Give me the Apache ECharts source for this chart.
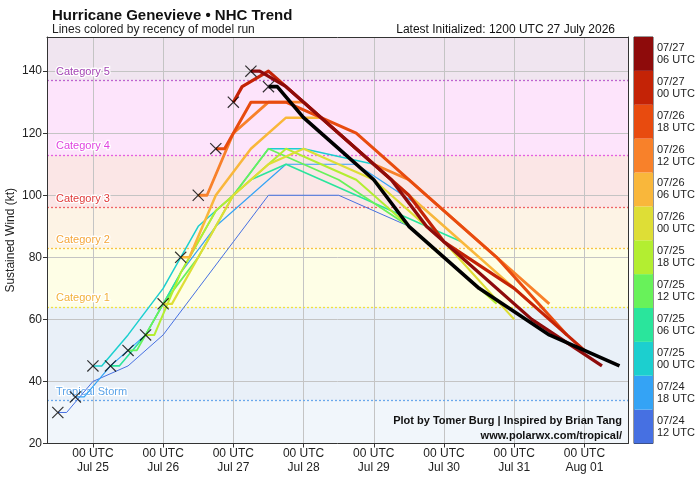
<!DOCTYPE html>
<html>
<head>
<meta charset="utf-8">
<script src="https://cdn.jsdelivr.net/npm/echarts@6/dist/echarts.min.js"></script>
<style>
    html, body { margin: 0; padding: 0; background: #fff; }
    #chart { width: 700px; height: 482px; }
</style>
</head>
<body>
<div id="chart"></div>
<script>
// time is in hours counted from 00 UTC 24 July 2026
const leadHours = [0, 3, 12, 24, 36, 48, 60, 72, 96, 120];

const runLabels = ['07/24\n12 UTC', '07/24\n18 UTC', '07/25\n00 UTC', '07/25\n06 UTC', '07/25\n12 UTC', '07/25\n18 UTC',
                   '07/26\n00 UTC', '07/26\n06 UTC', '07/26\n12 UTC', '07/26\n18 UTC', '07/27\n00 UTC', '07/27\n06 UTC'];
const runInitHours = [12, 18, 24, 30, 36, 42, 48, 54, 60, 66, 72, 78];
const runColors = ['#4670e2', '#34a3f5', '#1ccfcf', '#2ae59c', '#68f25a', '#b3ee31',
                   '#dede36', '#f9b73b', '#f8812a', '#e84b0f', '#c42306', '#8e0b0b'];
const runWidths = [1, 1.2, 1.5, 1.6, 1.8, 2, 2.2, 2.5, 2.8, 3, 3.2, 3.3];

// wind (kt) of every run at each lead time
const run0724_12 = [30, 30, 40, 45, 55, 70, 85, 100, 100, 90];
const run0724_18 = [35, 35, 45, 55, 75, 90, 100, 110, 110, 95];
const run0725_00 = [45, 45, 55, 70, 90, 100, 115, 115, 110, 90];
const run0725_06 = [45, 45, 55, 75, 95, 105, 110, 105, 95, 85];
const run0725_12 = [50, 50, 65, 80, 100, 115, 110, 105, 90, 70];
const run0725_18 = [55, 55, 75, 95, 105, 115, 110, 105, 85, 65];
const run0726_00 = [65, 65, 80, 100, 110, 115, 110, 105, 85, 60];
const run0726_06 = [80, 80, 100, 115, 125, 125, 115, 105, 85, 65];
const run0726_12 = [100, 100, 120, 130, 130, 120, 110, 105, 85, 65];
const run0726_18 = [115, 115, 130, 130, 125, 120, 110, 100, 80, 55];
const run0727_00 = [130, 135, 140, 130, 120, 110, 100, 85, 70, 50];
const run0727_06 = [140, 140, 135, 125, 115, 105, 90, 80, 60, 45];
const runs = [run0724_12, run0724_18, run0725_00, run0725_06, run0725_12, run0725_18,
              run0726_00, run0726_06, run0726_12, run0726_18, run0727_00, run0727_06];

// latest run, 07/27 12 UTC
const latestInitHour = 84;
const latestRun = [135, 135, 125, 115, 105, 90, 80, 70, 55, 45];

// observed intensity at each run time
const obsHours = [12, 18, 24, 30, 36, 42, 48, 54, 60, 66, 72, 78, 84];
const obsWind = [30, 35, 45, 45, 50, 55, 65, 80, 100, 115, 130, 140, 135];

const tickHours = [24, 48, 72, 96, 120, 144, 168, 192];
const tickDays = ['Jul 25', 'Jul 26', 'Jul 27', 'Jul 28', 'Jul 29', 'Jul 30', 'Jul 31', 'Aug 01'];
const windTicks = [20, 40, 60, 80, 100, 120, 140];

const catNames = ['Tropical Storm', 'Category 1', 'Category 2', 'Category 3', 'Category 4', 'Category 5'];
const catThresholds = [34, 64, 83, 96, 113, 137];
const catLineColors = ['#6aa8ec', '#f2e23c', '#f8c244', '#f06464', '#e45ee4', '#c062d0'];
const catTextColors = ['#5ba3e8', '#f2b23a', '#f5a53a', '#e03a3a', '#e044e0', '#a444b4'];
const bandEdges = [20, 34, 64, 83, 96, 113, 137, 151];
const bandColors = ['#f1f6fb', '#e9f0f8', '#fefee6', '#fdf3e5', '#fbe6e6', '#fde4fb', '#f0e5f0'];

const FONT = 'Liberation Sans';

let chart = echarts.init(document.getElementById('chart'));

let series = [];

// category bands and threshold lines
series.push({
    type: 'line',
    data: [],
    silent: true,
    z: 0,
    markArea: {
        silent: true,
        z: 0,
        data: bandColors.map((c, i) => [
            { yAxis: bandEdges[i], itemStyle: { color: c } },
            { yAxis: bandEdges[i + 1] }
        ])
    },
    markLine: {
        silent: true,
        symbol: 'none',
        z: 1,
        data: catThresholds.map((v, i) => ({
            yAxis: v,
            lineStyle: { color: catLineColors[i], type: [2, 2], width: 1.3 },
            label: {
                show: true,
                position: 'insideStartTop',
                distance: [9, 3],
                formatter: catNames[i],
                color: catTextColors[i],
                fontFamily: FONT,
                fontSize: 11,
                textBorderColor: '#fff',
                textBorderWidth: 2.5
            }
        }))
    }
});

runs.forEach((vals, i) => {
    series.push({
        type: 'line',
        name: runLabels[i],
        data: leadHours.map((h, k) => [runInitHours[i] + h, vals[k]]),
        symbol: 'none',
        silent: true,
        z: 3 + i,
        lineStyle: { color: runColors[i], width: runWidths[i], join: 'round' }
    });
});

series.push({
    type: 'line',
    name: 'latest',
    data: leadHours.map((h, k) => [latestInitHour + h, latestRun[k]]),
    symbol: 'none',
    silent: true,
    z: 20,
    lineStyle: { color: '#000', width: 3.6, join: 'round' }
});

series.push({
    type: 'scatter',
    data: obsHours.map((h, k) => [h, obsWind[k]]),
    symbol: 'path://M0,0.7L0.7,0L10,9.3L9.3,10Z M9.3,0L10,0.7L0.7,10L0,9.3Z',
    symbolSize: 12,
    silent: true,
    z: 30,
    itemStyle: { color: '#000' }
});

// colour bar
series.push({
    type: 'bar',
    xAxisIndex: 2,
    yAxisIndex: 2,
    data: runColors.map(c => ({ value: 1, itemStyle: { color: c } })),
    barWidth: '100%',
    silent: true
});

let option = {
    animation: false,
    textStyle: { fontFamily: FONT },
    title: [
        {
            text: 'Hurricane Genevieve • NHC Trend',
            left: 47, top: 3,
            textStyle: { fontSize: 15, fontWeight: 'bold', color: '#111', fontFamily: FONT }
        },
        {
            text: 'Lines colored by recency of model run',
            left: 47, top: 19,
            textStyle: { fontSize: 12, fontWeight: 'normal', color: '#222', fontFamily: FONT }
        },
        {
            text: 'Latest Initialized: 1200 UTC 27 July 2026',
            right: 80, top: 19,
            textStyle: { fontSize: 12, fontWeight: 'normal', color: '#111', fontFamily: FONT }
        }
    ],
    grid: [
        { left: 47, right: 72, top: 37, bottom: 38.5, containLabel: false, outerBoundsMode: 'none' },
        { left: 634, width: 19, top: 37, bottom: 38.5, show: true, borderColor: '#333', borderWidth: 1,
          containLabel: false, outerBoundsMode: 'none' }
    ],
    xAxis: [
        {
            type: 'value', min: 8.3, max: 206.9, z: 1,
            axisLine: { show: true, onZero: false, lineStyle: { color: '#333' } },
            axisTick: { show: true, customValues: tickHours, length: 4, lineStyle: { color: '#333' } },
            axisLabel: {
                customValues: tickHours,
                formatter: v => '00 UTC\n' + tickDays[tickHours.indexOf(v)],
                fontSize: 12, lineHeight: 14, color: '#222', margin: 3
            },
            splitLine: { show: true, lineStyle: { color: '#c4c4c4', width: 1 } }
        },
        {
            type: 'value', min: 8.3, max: 206.9, position: 'top', z: 1,
            axisLine: { show: true, onZero: false, lineStyle: { color: '#333' } },
            axisTick: { show: false }, axisLabel: { show: false }, splitLine: { show: false }
        },
        { gridIndex: 1, type: 'value', min: 0, max: 1, show: false }
    ],
    yAxis: [
        {
            type: 'value', min: 20, max: 151, z: 1,
            name: 'Sustained Wind (kt)', nameLocation: 'middle', nameGap: 30, nameMoveOverlap: false,
            nameTextStyle: { fontSize: 12, color: '#222', fontFamily: FONT },
            axisLine: { show: true, onZero: false, lineStyle: { color: '#333' } },
            axisTick: { show: true, customValues: windTicks, length: 4, lineStyle: { color: '#333' } },
            axisLabel: { customValues: windTicks, fontSize: 12, color: '#222', margin: 5 },
            splitLine: { show: true, lineStyle: { color: '#c4c4c4', width: 1 } }
        },
        {
            type: 'value', min: 20, max: 151, position: 'right', z: 1,
            axisLine: { show: true, onZero: false, lineStyle: { color: '#333' } },
            axisTick: { show: false }, axisLabel: { show: false }, splitLine: { show: false }
        },
        {
            gridIndex: 1, type: 'category', data: runLabels, position: 'right',
            axisLine: { show: false },
            axisTick: { show: true, alignWithLabel: true, length: 3, lineStyle: { color: '#333' } },
            axisLabel: { fontSize: 11, lineHeight: 12, color: '#222', margin: 4 }
        }
    ],
    graphic: [
        {
            type: 'text', right: 78, top: 415, z: 100,
            style: { text: 'Plot by Tomer Burg | Inspired by Brian Tang', font: 'bold 11px "Liberation Sans"', fill: '#111', textAlign: 'right' }
        },
        {
            type: 'text', right: 78, top: 430, z: 100,
            style: { text: 'www.polarwx.com/tropical/', font: 'bold 11px "Liberation Sans"', fill: '#111', textAlign: 'right' }
        }
    ],
    series: series
};

chart.setOption(option);
</script>
</body>
</html>
